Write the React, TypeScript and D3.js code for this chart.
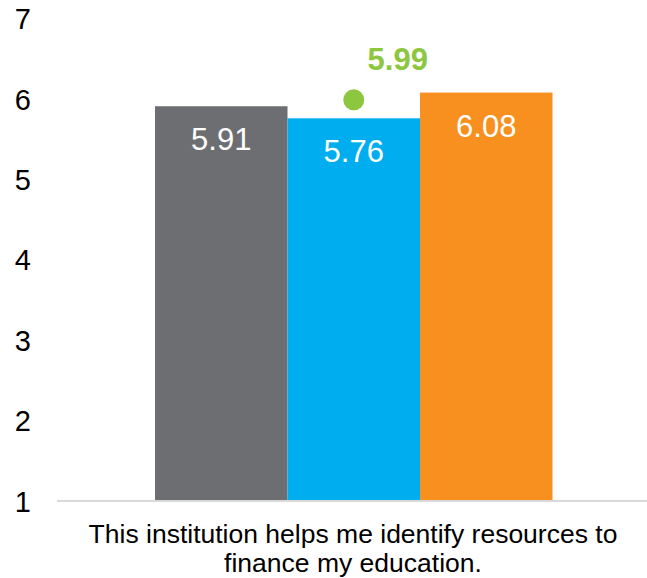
import React from "react";
import * as d3 from "d3";

const groups = ["Institution", "Comparison", "National"];
const values = [5.91, 5.76, 6.08];
const colors = ["#6D6E71", "#00AEEF", "#F7901E"];
const targetValue = 5.99;
const yTicks = [1, 2, 3, 4, 5, 6, 7];
const categoryLines = [
  "This institution helps me identify resources to",
  "finance my education.",
];

const width = 647;
const height = 578;

export default function App() {
  const y = d3.scaleLinear().domain([1, 7]).range([501, 18.6]);
  const x = d3.scaleBand().domain(groups).range([155, 552.5]).padding(0);
  const font = "Arial, 'Liberation Sans', sans-serif";

  return (
    <svg
      width={width}
      height={height}
      style={{ position: "absolute", left: 0, top: 0, background: "#fff" }}
      fontFamily={font}
    >
      {/* y tick labels */}
      {yTicks.map((t) => (
        <text
          key={t}
          x={31}
          y={y(t) + 10.5}
          textAnchor="end"
          fontSize={29}
          fill="#000"
        >
          {t}
        </text>
      ))}

      {/* bars */}
      {groups.map((g, i) => (
        <g key={g}>
          <rect
            x={x(g)}
            y={y(values[i])}
            width={x.bandwidth()}
            height={y(1) - y(values[i])}
            fill={colors[i]}
          />
          <text
            x={(x(g) as number) + x.bandwidth() / 2}
            y={y(values[i]) + 44}
            textAnchor="middle"
            fontSize={31}
            fill="#fff"
          >
            {values[i].toFixed(2)}
          </text>
        </g>
      ))}

      {/* axis line */}
      <line x1={57} x2={width} y1={y(1)} y2={y(1)} stroke="#D9D9D9" strokeWidth={2} />

      {/* target marker */}
      <circle
        cx={(x(groups[1]) as number) + x.bandwidth() / 2}
        cy={y(targetValue)}
        r={10.5}
        fill="#8DC63F"
      />
      <text
        x={(x(groups[1]) as number) + x.bandwidth() / 2 + 44}
        y={y(targetValue) - 30}
        textAnchor="middle"
        fontSize={31}
        fontWeight="bold"
        fill="#8DC63F"
      >
        {targetValue.toFixed(2)}
      </text>

      {/* category label */}
      {categoryLines.map((l, i) => (
        <text
          key={i}
          x={353}
          y={543 + i * 29}
          textAnchor="middle"
          fontSize={26.5}
          fill="#000"
        >
          {l}
        </text>
      ))}
    </svg>
  );
}
